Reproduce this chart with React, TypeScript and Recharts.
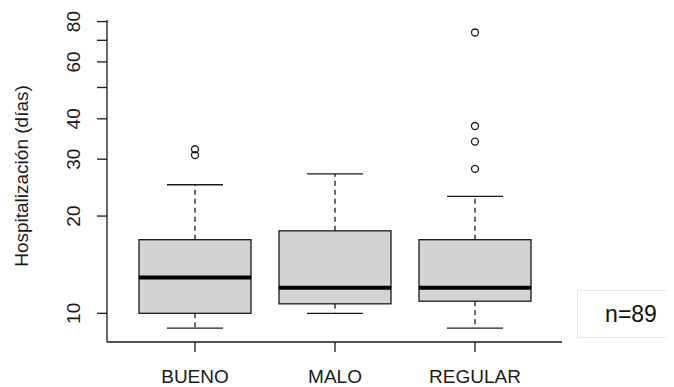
import React from 'react'
import { ComposedChart, Bar, Scatter, XAxis, YAxis } from 'recharts'

const grupos = ['BUENO', 'MALO', 'REGULAR']
const minimos = [9, 10, 9]
const cuartil1 = [10, 10.7, 10.9]
const medianas = [12.9, 12, 12]
const cuartil3 = [16.9, 18, 16.9]
const maximos = [25, 27, 23]
const atipicos = [[30.9, 32.2], [], [28, 34, 38, 74]]

const ticksY = [10, 20, 30, 40, 50, 60, 70, 80]
const etiquetasY = [10, 20, 30, 40, 60, 80]

const dominioY: [number, number] = [8.15, 80.9]

const FUENTE = '"Liberation Sans", Arial, Helvetica, sans-serif'
const TINTA = '#1a1a1a'

const datos = grupos.map((g, i) => ({
  grupo: g,
  bigoteInf: [minimos[i], cuartil1[i]],
  cajaInf: [cuartil1[i], medianas[i]],
  cajaSup: [medianas[i], cuartil3[i]],
  bigoteSup: [cuartil3[i], maximos[i]],
  o1: atipicos[i][0] ?? null,
  o2: atipicos[i][1] ?? null,
  o3: atipicos[i][2] ?? null,
  o4: atipicos[i][3] ?? null,
}))

const CajaInferior = (p: any) => (
  <rect x={p.x} y={p.y} width={p.width} height={p.height} fill="#D3D3D3" stroke={TINTA} strokeWidth={1.3} />
)

const CajaSuperior = (p: any) => (
  <g>
    <rect x={p.x} y={p.y} width={p.width} height={p.height} fill="#D3D3D3" stroke={TINTA} strokeWidth={1.3} />
    <line x1={p.x} x2={p.x + p.width} y1={p.y + p.height} y2={p.y + p.height} stroke="#000" strokeWidth={4} />
  </g>
)

const BigoteSuperior = (p: any) => {
  const cx = p.x + p.width / 2
  return (
    <g stroke={TINTA} strokeWidth={1.3}>
      <line x1={cx} x2={cx} y1={p.y + p.height} y2={p.y} strokeDasharray="5 4" />
      <line x1={cx - p.width / 4} x2={cx + p.width / 4} y1={p.y} y2={p.y} />
    </g>
  )
}

const BigoteInferior = (p: any) => {
  const cx = p.x + p.width / 2
  const yb = p.y + p.height
  return (
    <g stroke={TINTA} strokeWidth={1.3}>
      <line x1={cx} x2={cx} y1={p.y} y2={yb} strokeDasharray="5 4" />
      <line x1={cx - p.width / 4} x2={cx + p.width / 4} y1={yb} y2={yb} />
    </g>
  )
}

const puntoAtipico = (clave: string) => (p: any) => {
  if (p.payload == null || p.payload[clave] == null || p.cy == null || isNaN(p.cy)) return <g />
  return <circle cx={p.cx} cy={p.cy} r={3.5} fill="none" stroke={TINTA} strokeWidth={1.3} />
}

const TickY = ({ x, y, payload }: any) => {
  if (!etiquetasY.includes(payload.value)) return <g />
  const bx = x - 17
  return (
    <text x={bx} y={y} transform={`rotate(-90 ${bx} ${y})`} textAnchor="middle" fontSize={19} fontFamily={FUENTE} fill={TINTA}>
      {payload.value}
    </text>
  )
}

const TickX = ({ x, y, payload }: any) => (
  <text x={x} y={y + 31} textAnchor="middle" fontSize={19} fontFamily={FUENTE} fill={TINTA}>
    {payload.value}
  </text>
)

const EtiquetaY = (props: any) => {
  const vb = props.viewBox || { x: 0, y: 12, width: 99, height: 322 }
  const cx = vb.x + 20
  const cy = vb.y + vb.height / 2 - 5
  return (
    <text x={cx} y={cy} transform={`rotate(-90 ${cx} ${cy})`} textAnchor="middle" fontSize={19} fontFamily={FUENTE} fill={TINTA}>
      Hospitalización (días)
    </text>
  )
}

export default function App() {
  return (
    <div style={{ position: 'relative', width: 666, height: 379, overflow: 'hidden', background: '#fff' }}>
      <ComposedChart
        width={666}
        height={379}
        data={datos}
        margin={{ top: 12, right: 112, bottom: 0, left: 0 }}
        barGap={-112}
      >
        <XAxis
          dataKey="grupo"
          height={45}
          padding={{ left: 18, right: 17 }}
          tick={<TickX />}
          tickSize={10}
          tickMargin={0}
          interval={0}
          axisLine={{ stroke: TINTA, strokeWidth: 1.3 }}
          tickLine={{ stroke: TINTA, strokeWidth: 1.3 }}
          allowDuplicatedCategory={false}
        />
        <XAxis
          xAxisId="arriba"
          dataKey="grupo"
          orientation="top"
          height={0}
          tick={false}
          tickLine={false}
          axisLine={{ stroke: TINTA, strokeWidth: 1.3 }}
        />
        <YAxis
          type="number"
          scale="log"
          domain={dominioY}
          allowDataOverflow
          ticks={ticksY}
          interval={0}
          width={99}
          tick={<TickY />}
          tickSize={10}
          tickMargin={0}
          axisLine={{ stroke: TINTA, strokeWidth: 1.3 }}
          tickLine={{ stroke: TINTA, strokeWidth: 1.3 }}
          label={<EtiquetaY />}
        />
        <YAxis
          yAxisId="derecha"
          orientation="right"
          type="number"
          scale="log"
          domain={dominioY}
          allowDataOverflow
          width={0}
          tick={false}
          tickLine={false}
          axisLine={{ stroke: TINTA, strokeWidth: 1.3 }}
        />
        <Bar dataKey="bigoteInf" barSize={112} shape={BigoteInferior} isAnimationActive={false} />
        <Bar dataKey="cajaInf" barSize={112} shape={CajaInferior} isAnimationActive={false} />
        <Bar dataKey="cajaSup" barSize={112} shape={CajaSuperior} isAnimationActive={false} />
        <Bar dataKey="bigoteSup" barSize={112} shape={BigoteSuperior} isAnimationActive={false} />
        <Scatter dataKey="o1" shape={puntoAtipico('o1')} isAnimationActive={false} />
        <Scatter dataKey="o2" shape={puntoAtipico('o2')} isAnimationActive={false} />
        <Scatter dataKey="o3" shape={puntoAtipico('o3')} isAnimationActive={false} />
        <Scatter dataKey="o4" shape={puntoAtipico('o4')} isAnimationActive={false} />
      </ComposedChart>
      <div
        style={{
          position: 'absolute',
          left: 569,
          top: 282,
          width: 108,
          height: 48,
          boxSizing: 'border-box',
          border: '1px solid #e6e6e6',
          background: '#fff',
          display: 'flex',
          alignItems: 'center',
          justifyContent: 'center',
          fontFamily: FUENTE,
          fontSize: 23,
          color: '#111',
        }}
      >
        n=89
      </div>
    </div>
  )
}
